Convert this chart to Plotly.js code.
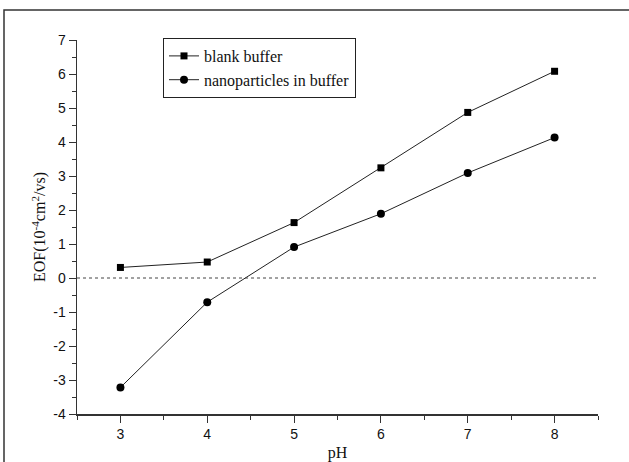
<!DOCTYPE html>
<html>
<head>
<meta charset="utf-8">
<script src="https://cdn.plot.ly/plotly-3.0.1.min.js"></script>
<style>html,body{margin:0;padding:0;background:#fff;}#chart{width:629px;height:462px;}</style>
</head>
<body>
<div id="chart"></div>
<script>
const pH = [3, 4, 5, 6, 7, 8];
const blankBuffer = [0.31, 0.47, 1.63, 3.24, 4.87, 6.08];
const nanoBuffer = [-3.22, -0.71, 0.91, 1.89, 3.09, 4.13];
const seriesNames = ["blank buffer", "nanoparticles in buffer"];
const yTickVals = [-4, -3, -2, -1, 0, 1, 2, 3, 4, 5, 6, 7];
const yTickText = ["-4", "-3", "-2", "-1", "0", "1", "2", "3", "4", "5", "6", "7"];

const W = 629, H = 462, L = 77, R = 31, T = 40, B = 48;
const pw = W - L - R, ph = H - T - B;
const px = v => (v - L) / pw;
const py = v => (H - B - v) / ph;

const traces = [
  {x: pH, y: blankBuffer, name: seriesNames[0], mode: "lines+markers", type: "scatter",
   line: {color: "#222", width: 1}, marker: {symbol: "square", size: 7, color: "#000"}},
  {x: pH, y: nanoBuffer, name: seriesNames[1], mode: "lines+markers", type: "scatter",
   line: {color: "#222", width: 1}, marker: {symbol: "circle", size: 8, color: "#000"}}
];

const tickFont = {family: "Liberation Sans, Arial, sans-serif", size: 14, color: "#111"};
const titleFont = {family: "Liberation Serif, Times New Roman, serif", size: 16, color: "#111"};

const layout = {
  width: W, height: H,
  margin: {l: L, r: R, t: T, b: B, pad: 0},
  paper_bgcolor: "#fff", plot_bgcolor: "#fff",
  showlegend: true,
  legend: {x: px(163), y: py(38), xanchor: "left", yanchor: "top",
    bordercolor: "#222", borderwidth: 1, bgcolor: "#fff",
    font: {family: "Liberation Serif, Times New Roman, serif", size: 16, color: "#111"},
    tracegroupgap: 0, itemwidth: 30},
  xaxis: {range: [2.5, 8.5], dtick: 1, tick0: 3, showgrid: false, zeroline: false,
    showline: true, linecolor: "#333", linewidth: 1.5,
    ticks: "outside", ticklen: 7, tickcolor: "#333", tickwidth: 1,
    minor: {dtick: 0.5, tick0: 3, ticklen: 4, tickcolor: "#333", ticks: "outside", showgrid: false},
    tickfont: tickFont,
    title: {text: "pH", font: titleFont, standoff: 5}},
  yaxis: {range: [-4, 7], tickvals: yTickVals, ticktext: yTickText, showgrid: false, zeroline: false,
    showline: true, linecolor: "#333", linewidth: 1.5,
    ticks: "outside", ticklen: 7, tickcolor: "#333", tickwidth: 1,
    minor: {dtick: 0.5, tick0: 0, ticklen: 4, tickcolor: "#333", ticks: "outside", showgrid: false},
    tickfont: tickFont,
    title: {text: "EOF(10<sup>-4</sup>cm<sup>2</sup>/vs)", font: titleFont, standoff: 3}},
  shapes: [
    {type: "line", xref: "paper", yref: "y", x0: 0, x1: 1, y0: 0, y1: 0,
     line: {color: "#444", width: 1, dash: "dot"}},
    {type: "rect", xref: "paper", yref: "paper", x0: px(4), x1: px(660), y0: py(10), y1: py(480),
     line: {color: "#333", width: 1.5}, fillcolor: "rgba(0,0,0,0)"}
  ]
};

Plotly.newPlot("chart", traces, layout, {displayModeBar: false, staticPlot: true});
</script>
</body>
</html>
